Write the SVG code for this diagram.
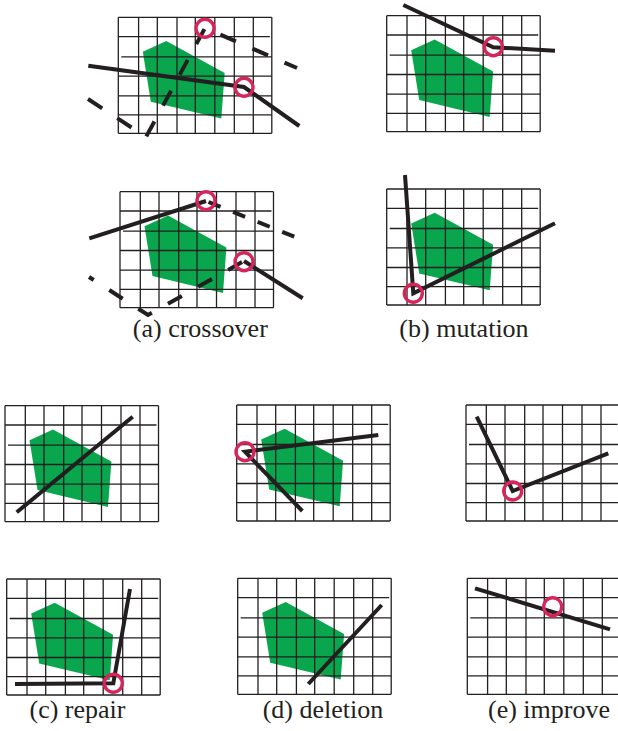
<svg xmlns="http://www.w3.org/2000/svg" width="618" height="731" viewBox="0 0 618 731">
<style>
.grid line{stroke:#231f20;stroke-width:1.3;}
.blob{fill:#0aa64e;}
.sol{fill:none;stroke:#231f20;stroke-width:4;stroke-linejoin:miter;}
.dash{fill:none;stroke:#231f20;stroke-width:4;}
.ring{fill:none;stroke:#d6255a;stroke-width:3.4;}
.lbl{font-family:"Liberation Serif","Times New Roman",serif;font-size:26px;fill:#231f20;text-anchor:middle;}
</style>
<defs>
<g id="grid" class="grid">
<line x1="0" y1="0" x2="0" y2="116"/>
<line x1="20.3" y1="0" x2="20.3" y2="116"/>
<line x1="39" y1="0" x2="39" y2="116"/>
<line x1="58.7" y1="0" x2="58.7" y2="116"/>
<line x1="77" y1="0" x2="77" y2="116"/>
<line x1="96.5" y1="0" x2="96.5" y2="116"/>
<line x1="116" y1="0" x2="116" y2="116"/>
<line x1="135" y1="0" x2="135" y2="116"/>
<line x1="153.5" y1="0" x2="153.5" y2="116"/>
<line x1="0" y1="0" x2="153.5" y2="0"/>
<line x1="0" y1="19.3" x2="151.5" y2="19.3"/>
<line x1="3" y1="39.5" x2="153.5" y2="39.5"/>
<line x1="0" y1="58.8" x2="153.5" y2="58.8"/>
<line x1="0" y1="78.5" x2="153.5" y2="78.5"/>
<line x1="0" y1="97.6" x2="153.5" y2="97.6"/>
<line x1="0" y1="116" x2="153.5" y2="116"/>
</g>
<polygon id="blob" points="24.5,34.5 48,23.7 106.4,55.8 103,101.3 32.5,84.4"/>
</defs>

<g id="panel-a-top">
<use href="#blob" class="blob" x="118.3" y="17.3"/>
<use href="#grid" x="118.3" y="17.3"/>
<path class="sol" d="M88.3,65.7 L244,87 L299.3,126"/>
<path class="dash" d="M88,99 L146,137 L205,28 L297,68" stroke-dasharray="17 18"/>
<circle class="ring" cx="205" cy="28.3" r="9"/>
<circle class="ring" cx="244" cy="87.3" r="9"/>
</g>

<g id="panel-a-bottom">
<use href="#blob" class="blob" x="120" y="191.7"/>
<use href="#grid" x="120" y="191.7"/>
<path class="sol" d="M89.3,238.3 L206,201"/>
<path class="dash" d="M206,201 L295,237" stroke-dasharray="13 13.5" stroke-dashoffset="23.8"/>
<path class="dash" d="M89,277 L148,315 L244,261" stroke-dasharray="16 18.5" stroke-dashoffset="10.4"/>
<path class="sol" d="M244,261 L302.7,298.3"/>
<circle class="ring" cx="206" cy="200.7" r="9"/>
<circle class="ring" cx="244" cy="261.7" r="9"/>
</g>

<g id="panel-b-top">
<use href="#blob" class="blob" x="386.7" y="15.7"/>
<use href="#grid" x="386.7" y="15.7"/>
<path class="sol" d="M403.3,5 L493.3,47.3 L555,50.7"/>
<circle class="ring" cx="493.3" cy="46.7" r="9"/>
</g>

<g id="panel-b-bottom">
<use href="#blob" class="blob" x="386.7" y="189"/>
<use href="#grid" x="386.7" y="189"/>
<path class="sol" d="M405,175 L413.3,293.3 L555,223.3"/>
<circle class="ring" cx="413.3" cy="293.3" r="9"/>
</g>

<g id="panel-c-top">
<use href="#blob" class="blob" x="5" y="405.7"/>
<use href="#grid" x="5" y="405.7"/>
<path class="sol" d="M16.7,512.3 L132.7,416.7"/>
</g>

<g id="panel-c-bottom">
<use href="#blob" class="blob" x="6.7" y="579"/>
<use href="#grid" x="6.7" y="579"/>
<path class="sol" d="M15,684 L113.3,683.3 L130,589"/>
<circle class="ring" cx="113.3" cy="683.3" r="9"/>
</g>

<g id="panel-d-top">
<use href="#blob" class="blob" x="236.7" y="405"/>
<use href="#grid" x="236.7" y="405"/>
<path class="sol" d="M378.3,435 L245,451.7 L302.3,511"/>
<circle class="ring" cx="245" cy="451.7" r="9"/>
</g>

<g id="panel-d-bottom">
<use href="#blob" class="blob" x="237.7" y="578.3"/>
<use href="#grid" x="237.7" y="578.3"/>
<path class="sol" d="M308.3,684 L381.7,605"/>
</g>

<g id="panel-e-top">
<use href="#grid" x="466" y="405"/>
<path class="sol" d="M476.7,416.7 L512.7,491 L608.3,453.3"/>
<circle class="ring" cx="512.7" cy="491" r="9"/>
</g>

<g id="panel-e-bottom">
<use href="#grid" x="467.3" y="578.3"/>
<path class="sol" d="M475,588.3 L610,629.3"/>
<circle class="ring" cx="552.7" cy="606.7" r="9"/>
</g>

<g id="labels">
<text class="lbl" x="200.3" y="337">(a) crossover</text>
<text class="lbl" x="464" y="337">(b) mutation</text>
<text class="lbl" x="77.5" y="718">(c) repair</text>
<text class="lbl" x="323" y="718">(d) deletion</text>
<text class="lbl" x="549" y="718">(e) improve</text>
</g>
</svg>
